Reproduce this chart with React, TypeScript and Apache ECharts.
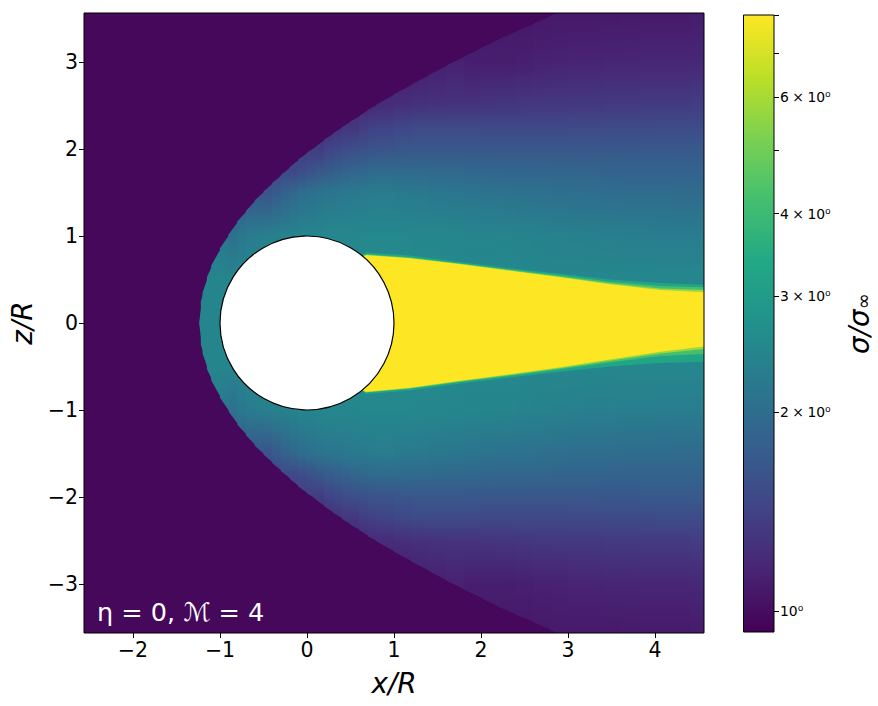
import React, { useEffect, useRef } from "react";
import * as echarts from "echarts";

// Axis ticks
const xTicks = [-2, -1, 0, 1, 2, 3, 4];
const zTicks = [-3, -2, -1, 0, 1, 2, 3];
const xRange = [-2.563, 4.563];
const zRange = [-3.563, 3.563];

// Colour bar
const sigmaRange = [0.93, 8.0];
const barTicks = [1, 2, 3, 4, 5, 6, 7, 8];
const barLabelValues = [1, 2, 3, 4, 6];
const barLabels = ["10\u2070", "2\u2005\u00d7\u200510\u2070", "3\u2005\u00d7\u200510\u2070", "4\u2005\u00d7\u200510\u2070", "6\u2005\u00d7\u200510\u2070"];
const viridis = ["#440154", "#482475", "#414487", "#355f8d", "#2a788e", "#21918c", "#22a884", "#44bf70", "#7ad151", "#bddf26", "#fde725"];

// Free-stream value outside the shock
const sigmaFreeStream = 0.97;

const _ = null;

// Columns of the field: x/R, shock height z/R, sigma just inside the shock
const columnX = [-1.24, -1.22, -1.2, -1.15, -1.1, -1.0, -0.9, -0.8, -0.7, -0.6, -0.5, -0.4, -0.3, -0.2, -0.1, 0, 0.1, 0.2, 0.3, 0.4, 0.5, 0.6, 0.7, 0.8, 1.0, 1.2, 1.4, 1.6, 1.8, 2.0, 2.2, 2.4, 2.6, 2.8, 3.0, 3.2, 3.4, 3.6, 3.8, 4.0, 4.2, 4.4, 4.6];
const shockZ = [0, 0.25, 0.35, 0.53, 0.66, 0.86, 1.02, 1.17, 1.29, 1.41, 1.51, 1.61, 1.7, 1.79, 1.88, 1.96, 2.03, 2.11, 2.18, 2.25, 2.32, 2.38, 2.45, 2.51, 2.63, 2.74, 2.85, 2.96, 3.06, 3.16, 3.26, 3.35, 3.44, 3.53, 3.62, 3.7, 3.78, 3.86, 3.94, 4.02, 4.1, 4.18, 4.26];
const sigmaShock = [2.45, 2.45, 2.45, 2.42, 2.35, 2.2, 2.02, 1.9, 1.79, 1.68, 1.6, 1.52, 1.48, 1.44, 1.4, 1.36, 1.33, 1.31, 1.29, 1.28, 1.26, 1.24, 1.22, 1.21, 1.17, 1.15, 1.14, 1.13, 1.11, 1.1, 1.09, 1.08, 1.08, 1.08, 1.07, 1.07, 1.07, 1.07, 1.07, 1.07, 1.08, 1.08, 1.08];

// Sigma at fixed heights in each column (null: outside the shock)
const rowZ = [0, 0.5, 1, 1.5, 1.75, 2, 2.25, 2.5, 3, 3.6];
const sigmaZ000 = [2.45, 2.45, 2.45, 2.45, 2.45, 2.45, 2.45, 2.45, 2.45, 2.45, 2.45, 2.45, 2.45, 2.45, 2.45, 2.5, 2.5, 2.5, 2.5, 2.5, 2.5, 2.55, 2.55, 2.55, 2.55, 2.55, 2.55, 2.55, 2.55, 2.55, 2.55, 2.55, 2.55, 2.55, 2.55, 2.55, 2.55, 2.55, 2.55, 2.55, 2.55, 2.55, 2.55];
const sigmaZ050 = [_, _, _, 2.43, 2.45, 2.45, 2.45, 2.45, 2.45, 2.45, 2.45, 2.45, 2.45, 2.45, 2.45, 2.5, 2.5, 2.5, 2.5, 2.5, 2.5, 2.55, 2.55, 2.55, 2.55, 2.55, 2.55, 2.55, 2.55, 2.55, 2.55, 2.52, 2.5, 2.5, 2.5, 2.5, 2.5, 2.5, 2.5, 2.5, 2.5, 2.5, 2.5];
const sigmaZ100 = [_, _, _, _, _, _, 2.05, 2.2, 2.27, 2.32, 2.35, 2.38, 2.4, 2.42, 2.45, 2.47, 2.49, 2.5, 2.5, 2.5, 2.51, 2.52, 2.52, 2.52, 2.52, 2.5, 2.5, 2.48, 2.46, 2.45, 2.43, 2.42, 2.4, 2.38, 2.36, 2.34, 2.33, 2.32, 2.31, 2.3, 2.3, 2.29, 2.28];
const sigmaZ150 = [_, _, _, _, _, _, _, _, _, _, 1.62, 1.72, 1.82, 1.92, 2.0, 2.06, 2.1, 2.14, 2.17, 2.2, 2.22, 2.24, 2.26, 2.27, 2.24, 2.21, 2.19, 2.16, 2.13, 2.1, 2.08, 2.07, 2.05, 2.03, 2.02, 2.01, 2.0, 1.99, 1.98, 1.98, 1.97, 1.97, 1.96];
const sigmaZ175 = [_, _, _, _, _, _, _, _, _, _, _, _, _, 1.46, 1.53, 1.6, 1.66, 1.72, 1.77, 1.82, 1.86, 1.9, 1.93, 1.95, 1.95, 1.93, 1.92, 1.91, 1.9, 1.88, 1.87, 1.87, 1.86, 1.85, 1.85, 1.85, 1.84, 1.84, 1.84, 1.83, 1.83, 1.83, 1.83];
const sigmaZ200 = [_, _, _, _, _, _, _, _, _, _, _, _, _, _, _, _, 1.35, 1.42, 1.47, 1.52, 1.55, 1.58, 1.61, 1.63, 1.65, 1.66, 1.66, 1.66, 1.66, 1.66, 1.66, 1.66, 1.66, 1.66, 1.66, 1.66, 1.67, 1.67, 1.68, 1.68, 1.68, 1.69, 1.69];
const sigmaZ225 = [_, _, _, _, _, _, _, _, _, _, _, _, _, _, _, _, _, _, _, _, 1.3, 1.36, 1.39, 1.42, 1.47, 1.5, 1.5, 1.5, 1.49, 1.48, 1.48, 1.48, 1.48, 1.48, 1.49, 1.49, 1.5, 1.5, 1.5, 1.51, 1.51, 1.51, 1.51];
const sigmaZ250 = [_, _, _, _, _, _, _, _, _, _, _, _, _, _, _, _, _, _, _, _, _, _, _, 1.22, 1.24, 1.26, 1.27, 1.28, 1.28, 1.29, 1.3, 1.31, 1.32, 1.32, 1.33, 1.33, 1.34, 1.34, 1.35, 1.35, 1.35, 1.36, 1.36];
const sigmaZ300 = [_, _, _, _, _, _, _, _, _, _, _, _, _, _, _, _, _, _, _, _, _, _, _, _, _, _, _, _, 1.11, 1.11, 1.11, 1.12, 1.13, 1.14, 1.15, 1.15, 1.16, 1.16, 1.17, 1.17, 1.17, 1.18, 1.18];
const sigmaZ360 = [_, _, _, _, _, _, _, _, _, _, _, _, _, _, _, _, _, _, _, _, _, _, _, _, _, _, _, _, _, _, _, _, _, _, 1.07, 1.07, 1.07, 1.08, 1.08, 1.08, 1.08, 1.09, 1.09];
const rowSigma = [sigmaZ000, sigmaZ050, sigmaZ100, sigmaZ150, sigmaZ175, sigmaZ200, sigmaZ225, sigmaZ250, sigmaZ300, sigmaZ360];

// Wake contours behind the body
const wakeX = [0.5, 0.68, 1.18, 1.76, 2.33, 2.91, 3.48, 4.06, 4.6];
const wakeOuterTop = [0.7, 0.81, 0.775, 0.7, 0.63, 0.565, 0.5, 0.46, 0.437];
const wakeOuterBottom = [0.7, 0.815, 0.775, 0.695, 0.625, 0.56, 0.5, 0.46, 0.445];
const wakeGreenTop = [0.7, 0.79, 0.755, 0.685, 0.615, 0.545, 0.475, 0.425, 0.41];
const wakeGreenBottom = [0.7, 0.8, 0.757, 0.678, 0.605, 0.533, 0.455, 0.38, 0.356];
const wakeLimeTop = [0.7, 0.785, 0.748, 0.68, 0.607, 0.533, 0.458, 0.397, 0.379];
const wakeLimeBottom = [0.7, 0.795, 0.75, 0.67, 0.597, 0.52, 0.435, 0.35, 0.295];
const wakeCoreTop = [0.7, 0.78, 0.743, 0.675, 0.6, 0.525, 0.445, 0.38, 0.353];
const wakeCoreBottom = [0.7, 0.79, 0.743, 0.665, 0.59, 0.51, 0.42, 0.33, 0.265];
const wakeLevels = [
  { sigma: 3.3, top: wakeOuterTop, bottom: wakeOuterBottom },
  { sigma: 4.2, top: wakeGreenTop, bottom: wakeGreenBottom },
  { sigma: 5.8, top: wakeLimeTop, bottom: wakeLimeBottom },
  { sigma: 8.0, top: wakeCoreTop, bottom: wakeCoreBottom },
];

// The body
const bodyCircle = [0, 0, 1];

const hexToRgb = (h: string) => [1, 3, 5].map((i) => parseInt(h.slice(i, i + 2), 16));
const sigmaColor = (s: number) => {
  const t = Math.log(s / sigmaRange[0]) / Math.log(sigmaRange[1] / sigmaRange[0]);
  const p = Math.min(Math.max(t, 0), 1) * (viridis.length - 1);
  const i = Math.min(Math.floor(p), viridis.length - 2);
  const a = hexToRgb(viridis[i]);
  const b = hexToRgb(viridis[i + 1]);
  const f = p - i;
  return `rgb(${a.map((v, k) => Math.round(v + (b[k] - v) * f)).join(",")})`;
};

const renderStrip = (params: any, api: any) => {
  const i = params.dataIndex;
  const x0 = api.value(0);
  const x1 = api.value(1);
  const z0 = shockZ[i];
  const z1 = shockZ[i + 1];
  const top = Math.max(z0, z1);
  const edge = (z0 + z1) / 2;
  const pts: [number, number][] = [];
  rowZ.forEach((z, r) => {
    const v = rowSigma[r][i];
    if (v != null && z < edge) pts.push([z, v]);
  });
  pts.push([edge, sigmaShock[i]]);
  pts.push([top, sigmaShock[i]]);
  const upper = pts.map(([z, v]) => ({ offset: (top - z) / (2 * top), color: sigmaColor(v) })).reverse();
  const lower = pts.map(([z, v]) => ({ offset: (top + z) / (2 * top), color: sigmaColor(v) }));
  const colorStops = upper.concat(lower);
  const points = [[x0, z0], [x1 + 0.012, z1], [x1 + 0.012, -z1], [x0, -z0]].map((p) => api.coord(p));
  return {
    type: "polygon",
    shape: { points },
    style: { fill: { type: "linear", x: 0, y: 0, x2: 0, y2: 1, colorStops }, stroke: null },
  };
};

const renderWake = (params: any, api: any) => {
  const level = wakeLevels[params.dataIndex];
  const upper = wakeX.map((x, k) => api.coord([x, level.top[k]]));
  const lower = wakeX.map((x, k) => api.coord([x, -level.bottom[k]])).reverse();
  return {
    type: "polygon",
    shape: { points: upper.concat(lower) },
    style: { fill: sigmaColor(level.sigma), stroke: null },
  };
};

const renderBody = (_p: any, api: any) => {
  const c = api.coord([api.value(0), api.value(1)]);
  const r = api.size([api.value(2), 0])[0];
  return {
    type: "circle",
    shape: { cx: c[0], cy: c[1], r },
    style: { fill: "#ffffff", stroke: "#000000", lineWidth: 1.2 },
  };
};

const renderFrame = (_p: any, api: any) => {
  const a = api.coord([api.value(0), api.value(1)]);
  const b = api.coord([api.value(2), api.value(3)]);
  return {
    type: "rect",
    shape: { x: a[0], y: b[1], width: b[0] - a[0], height: a[1] - b[1] },
    style: { fill: "none", stroke: "#000000", lineWidth: 1 },
  };
};

const renderBar = (_p: any, api: any) => {
  const a = api.coord([api.value(0), api.value(1)]);
  const b = api.coord([api.value(2), api.value(3)]);
  return {
    type: "rect",
    shape: { x: a[0], y: b[1], width: b[0] - a[0], height: a[1] - b[1] },
    style: {
      fill: {
        type: "linear", x: 0, y: 1, x2: 0, y2: 0,
        colorStops: viridis.map((color, k) => ({ offset: k / (viridis.length - 1), color })),
      },
      stroke: "#000000",
      lineWidth: 1,
    },
  };
};

const FONT = '"DejaVu Sans"';
const tickBase = { length: 5, lineStyle: { color: "#000", width: 1 } };

export default function App() {
  const ref = useRef<HTMLDivElement>(null);
  useEffect(() => {
    const chart = echarts.init(ref.current!, undefined, { renderer: "svg" });
    const logMin = Math.log10(sigmaRange[0]);
    const logMax = Math.log10(sigmaRange[1]);
    chart.setOption({
      animation: false,
      backgroundColor: "#ffffff",
      grid: [
        { left: 84, top: 13, width: 620, height: 620, show: true, backgroundColor: sigmaColor(sigmaFreeStream), borderWidth: 0 },
        { left: 743.5, top: 15, width: 30.5, height: 617, show: false },
      ],
      xAxis: [
        {
          gridIndex: 0, type: "value", min: xRange[0], max: xRange[1], position: "bottom",
          name: "x/R", nameLocation: "middle", nameGap: 36,
          nameTextStyle: { fontFamily: FONT, fontStyle: "italic", fontSize: 27.8, color: "#000" },
          axisLine: { show: false, onZero: false }, splitLine: { show: false },
          axisTick: { ...tickBase, customValues: xTicks },
          axisLabel: {
            customValues: xTicks, margin: 6, fontFamily: FONT, fontSize: 20.5, color: "#000",
            formatter: (v: number) => String(v).replace("-", "\u2212"),
          },
        },
        { gridIndex: 1, type: "value", min: 0, max: 1, show: false },
      ],
      yAxis: [
        {
          gridIndex: 0, type: "value", min: zRange[0], max: zRange[1], position: "left",
          name: "z/R", nameLocation: "middle", nameGap: 47,
          nameTextStyle: { fontFamily: FONT, fontStyle: "italic", fontSize: 27.8, color: "#000" },
          axisLine: { show: false, onZero: false }, splitLine: { show: false },
          axisTick: { ...tickBase, customValues: zTicks },
          axisLabel: {
            customValues: zTicks, margin: 6, fontFamily: FONT, fontSize: 20.5, color: "#000",
            formatter: (v: number) => String(v).replace("-", "\u2212"),
          },
        },
        {
          gridIndex: 1, type: "value", min: logMin, max: logMax, position: "right",
          name: "{m|\u03c3/\u03c3}{s|\u221e}", nameLocation: "middle", nameGap: 71, nameRotate: 90,
          nameTextStyle: {
            rich: {
              m: { fontFamily: FONT, fontStyle: "italic", fontSize: 27.8, color: "#000" },
              s: { fontFamily: FONT, fontSize: 19.4, color: "#000", verticalAlign: "bottom", padding: [8, 0, 0, 0] },
            },
          },
          axisLine: { show: false, onZero: false }, splitLine: { show: false },
          axisTick: { ...tickBase, customValues: barTicks.map((v) => Math.log10(v)) },
          axisLabel: {
            customValues: barLabelValues.map((v) => Math.log10(v)), margin: 6, fontFamily: FONT, fontSize: 13.9, color: "#000",
            formatter: (v: number) => {
              const k = barLabelValues.findIndex((s) => Math.abs(Math.log10(s) - v) < 1e-6);
              return k >= 0 ? barLabels[k] : "";
            },
          },
        },
      ],
      series: [
        {
          type: "custom", xAxisIndex: 0, yAxisIndex: 0, clip: true, z: 2, renderItem: renderStrip,
          encode: { x: [0, 1], y: 2 },
          data: columnX.slice(0, -1).map((x, i) => [x, columnX[i + 1], shockZ[i]]),
        },
        {
          type: "custom", xAxisIndex: 0, yAxisIndex: 0, clip: true, z: 3, renderItem: renderWake,
          encode: { x: 0, y: 1 },
          data: wakeLevels.map((l) => [wakeX[0], l.sigma]),
        },
        {
          type: "custom", xAxisIndex: 0, yAxisIndex: 0, clip: true, z: 4, renderItem: renderBody,
          encode: { x: 0, y: 1 },
          data: [bodyCircle],
        },
        {
          type: "custom", xAxisIndex: 0, yAxisIndex: 0, clip: false, z: 5, renderItem: renderFrame,
          encode: { x: [0, 2], y: [1, 3] },
          data: [[xRange[0], zRange[0], xRange[1], zRange[1]]],
        },
        {
          type: "custom", xAxisIndex: 1, yAxisIndex: 1, clip: false, z: 5, renderItem: renderBar,
          encode: { x: [0, 2], y: [1, 3] },
          data: [[0, logMin, 1, logMax]],
        },
      ],
      graphic: [
        {
          type: "text", x: 97, y: 599, z: 10,
          style: { text: "\u03b7 = 0, \u2133 = 4", fill: "#ffffff", font: `25.5px ${FONT}` },
        },
      ],
    });
    return () => chart.dispose();
  }, []);
  return <div ref={ref} style={{ position: "absolute", left: 0, top: 0, width: 878, height: 706 }} />;
}
